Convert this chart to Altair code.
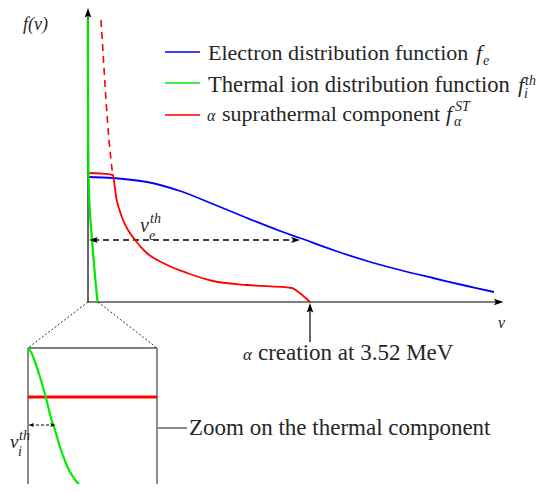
import altair as alt
import pandas as pd

# ---------------- data (schematic coordinates) ----------------
blue_x = [88, 113, 147, 180, 213, 247, 280, 300, 333, 367, 400, 433, 467, 494]
blue_y = [177, 178, 182, 191, 204, 218, 231, 238, 250, 261, 270, 278, 286, 292]

green_x = [87.7, 87.9, 88.2, 88.6, 89.5, 90.8, 92.2, 94.5, 97.5]
green_y = [20, 70, 130, 177, 205, 225, 242, 270, 302]

red_x = [88, 100, 113, 114.5, 116.7, 119.5, 123, 128, 135, 146.7, 163, 187, 213, 247, 292, 297, 310]
red_y = [173, 173.5, 175, 185, 200, 210, 220, 230, 240, 253, 263, 273, 281, 285, 288, 291, 302]

red_dash_x = [101, 103.5, 106, 109, 112.5]
red_dash_y = [20, 60, 100, 140, 173]

zoom_green_x = [28, 31, 35, 40, 46, 51, 55, 60, 65, 70, 76, 82, 90, 96]
zoom_green_y = [348, 352, 362, 377, 398, 418, 430, 447, 461, 472, 481, 487, 491, 492]

zoom_red_x = [28, 157]
zoom_red_y = [397, 397]

legend_x = [165, 200]
legend_y = [52, 83, 115]
legend_colors = ["#0000ff", "#00e600", "#ff0000"]

# solid black segments: axes, creation arrow, zoom box top
solid_x = [88, 88, 310, 28]
solid_y = [302, 302, 342, 348]
solid_x2 = [88, 500, 310, 157]
solid_y2 = [14, 302, 308, 348]

# grey box sides and leader line
grey_x = [28, 157, 158]
grey_y = [348, 348, 428]
grey_x2 = [28, 157, 187]
grey_y2 = [495, 495, 428]

# dashed segments
dash_x = [93, 88, 98]
dash_y = [240, 302, 302]
dash_x2 = [295, 28, 157]
dash_y2 = [240, 348, 348]

vi_x = [31, 53]
vi_y = [425, 425]

# arrow heads (centre point and direction)
arrow_x = [88, 498, 310, 94, 295, 31.5, 52.5]
arrow_y = [13.5, 302, 308.5, 240, 240, 425, 425]
arrow_angle = [0, 90, 0, 270, 90, 270, 90]
arrow_size = [120, 120, 120, 100, 100, 40, 40]

# texts
roman_text = ["Electron distribution function", "Thermal ion distribution function",
              "suprathermal component", "creation at 3.52 MeV", "Zoom on the thermal component"]
roman_x = [208, 208, 222, 258, 189]
roman_y = [60, 92, 121, 360, 435]
roman_size = [22, 22.6, 22, 23, 23]

italic_text = ["f(v)", "v", "f", "e", "f", "th", "i", "α", "f", "ST", "α", "α",
               "v", "th", "e", "v", "th", "i"]
italic_x = [23, 498, 476, 483, 518, 525, 524, 207, 446, 455, 454, 243,
            140, 150, 149, 10, 19, 18]
italic_y = [30, 328, 60, 65, 92, 85, 98, 121, 121, 111, 126, 360,
            232, 223, 240, 448, 440, 456]
italic_size = [18, 16, 22, 14, 22, 14, 14, 16, 22, 14, 14, 17,
               20, 14, 14, 19, 14, 14]

# ---------------- chart ----------------
X = alt.Scale(domain=[8, 543], nice=False, zero=False)
Y = alt.Scale(domain=[484, 8], nice=False, zero=False)
FONT = "Liberation Serif, DejaVu Serif, serif"
TXT = "#262626"


def xy():
    return dict(x=alt.X("x:Q", scale=X, axis=None), y=alt.Y("y:Q", scale=Y, axis=None))


def curve(xs, ys, color, width, interp="monotone", dash=None):
    d = pd.DataFrame({"x": xs, "y": ys, "i": list(range(len(xs)))})
    kw = dict(color=color, strokeWidth=width, interpolate=interp)
    if dash:
        kw["strokeDash"] = dash
    return alt.Chart(d).mark_line(**kw).encode(order="i:Q", **xy())


def segs(x, y, x2, y2, color, width, dash=None):
    d = pd.DataFrame({"x": x, "y": y, "x2": x2, "y2": y2})
    kw = dict(color=color, strokeWidth=width)
    if dash:
        kw["strokeDash"] = dash
    return alt.Chart(d).mark_rule(**kw).encode(x2="x2:Q", y2="y2:Q", **xy())


layers = []

leg = pd.DataFrame({
    "x": [legend_x[0]] * 3, "x2": [legend_x[1]] * 3, "y": legend_y, "y2": legend_y,
    "c": legend_colors,
})
layers.append(alt.Chart(leg).mark_rule(strokeWidth=1.5).encode(
    x2="x2:Q", y2="y2:Q", color=alt.Color("c:N", scale=None), **xy()))

layers.append(segs(solid_x, solid_y, solid_x2, solid_y2, "black", 1.2))
layers.append(segs(grey_x, grey_y, grey_x2, grey_y2, "#707070", 1.6))
layers.append(segs(dash_x[:1], dash_y[:1], dash_x2[:1], dash_y2[:1], "black", 1.3, [6, 4]))
layers.append(segs(dash_x[1:], dash_y[1:], dash_x2[1:], dash_y2[1:], "black", 0.8, [2, 2]))
layers.append(segs([vi_x[0]], [vi_y[0]], [vi_x[1]], [vi_y[1]], "black", 1.0, [3, 2]))

layers.append(curve(blue_x, blue_y, "#0000ff", 1.8, interp="catmull-rom"))
layers.append(curve(red_x, red_y, "#ff0000", 1.8))
layers.append(curve(red_dash_x, red_dash_y, "#ff0000", 1.6, dash=[7, 5]))
layers.append(curve(green_x, green_y, "#00e600", 2.2, interp="catmull-rom"))
layers.append(curve(zoom_red_x, zoom_red_y, "#ff0000", 3, interp="linear"))
layers.append(curve(zoom_green_x, zoom_green_y, "#00ee00", 2.2, interp="catmull-rom"))

arr = pd.DataFrame({"x": arrow_x, "y": arrow_y, "a": arrow_angle, "s": arrow_size})
layers.append(alt.Chart(arr).mark_point(
    shape="M0,-1L0.6,0.75L0,0.4L-0.6,0.75Z", filled=True, color="black", opacity=1,
    strokeWidth=0).encode(angle=alt.Angle("a:Q", scale=None), size=alt.Size("s:Q", scale=None), **xy()))

rt = pd.DataFrame({"x": roman_x, "y": roman_y, "t": roman_text, "s": roman_size})
layers.append(alt.Chart(rt).mark_text(align="left", baseline="alphabetic", font=FONT, color=TXT).encode(
    text="t:N", size=alt.Size("s:Q", scale=None), **xy()))
it = pd.DataFrame({"x": italic_x, "y": italic_y, "t": italic_text, "s": italic_size})
layers.append(alt.Chart(it).mark_text(align="left", baseline="alphabetic", font=FONT,
                                      fontStyle="italic", color=TXT).encode(
    text="t:N", size=alt.Size("s:Q", scale=None), **xy()))

chart = alt.layer(*layers).properties(
    width=535, height=476, padding=0,
    autosize=alt.AutoSizeParams(type="none"),
).configure_view(stroke=None)

chart.save("out.html", embed_options={"renderer": "svg", "actions": False})
